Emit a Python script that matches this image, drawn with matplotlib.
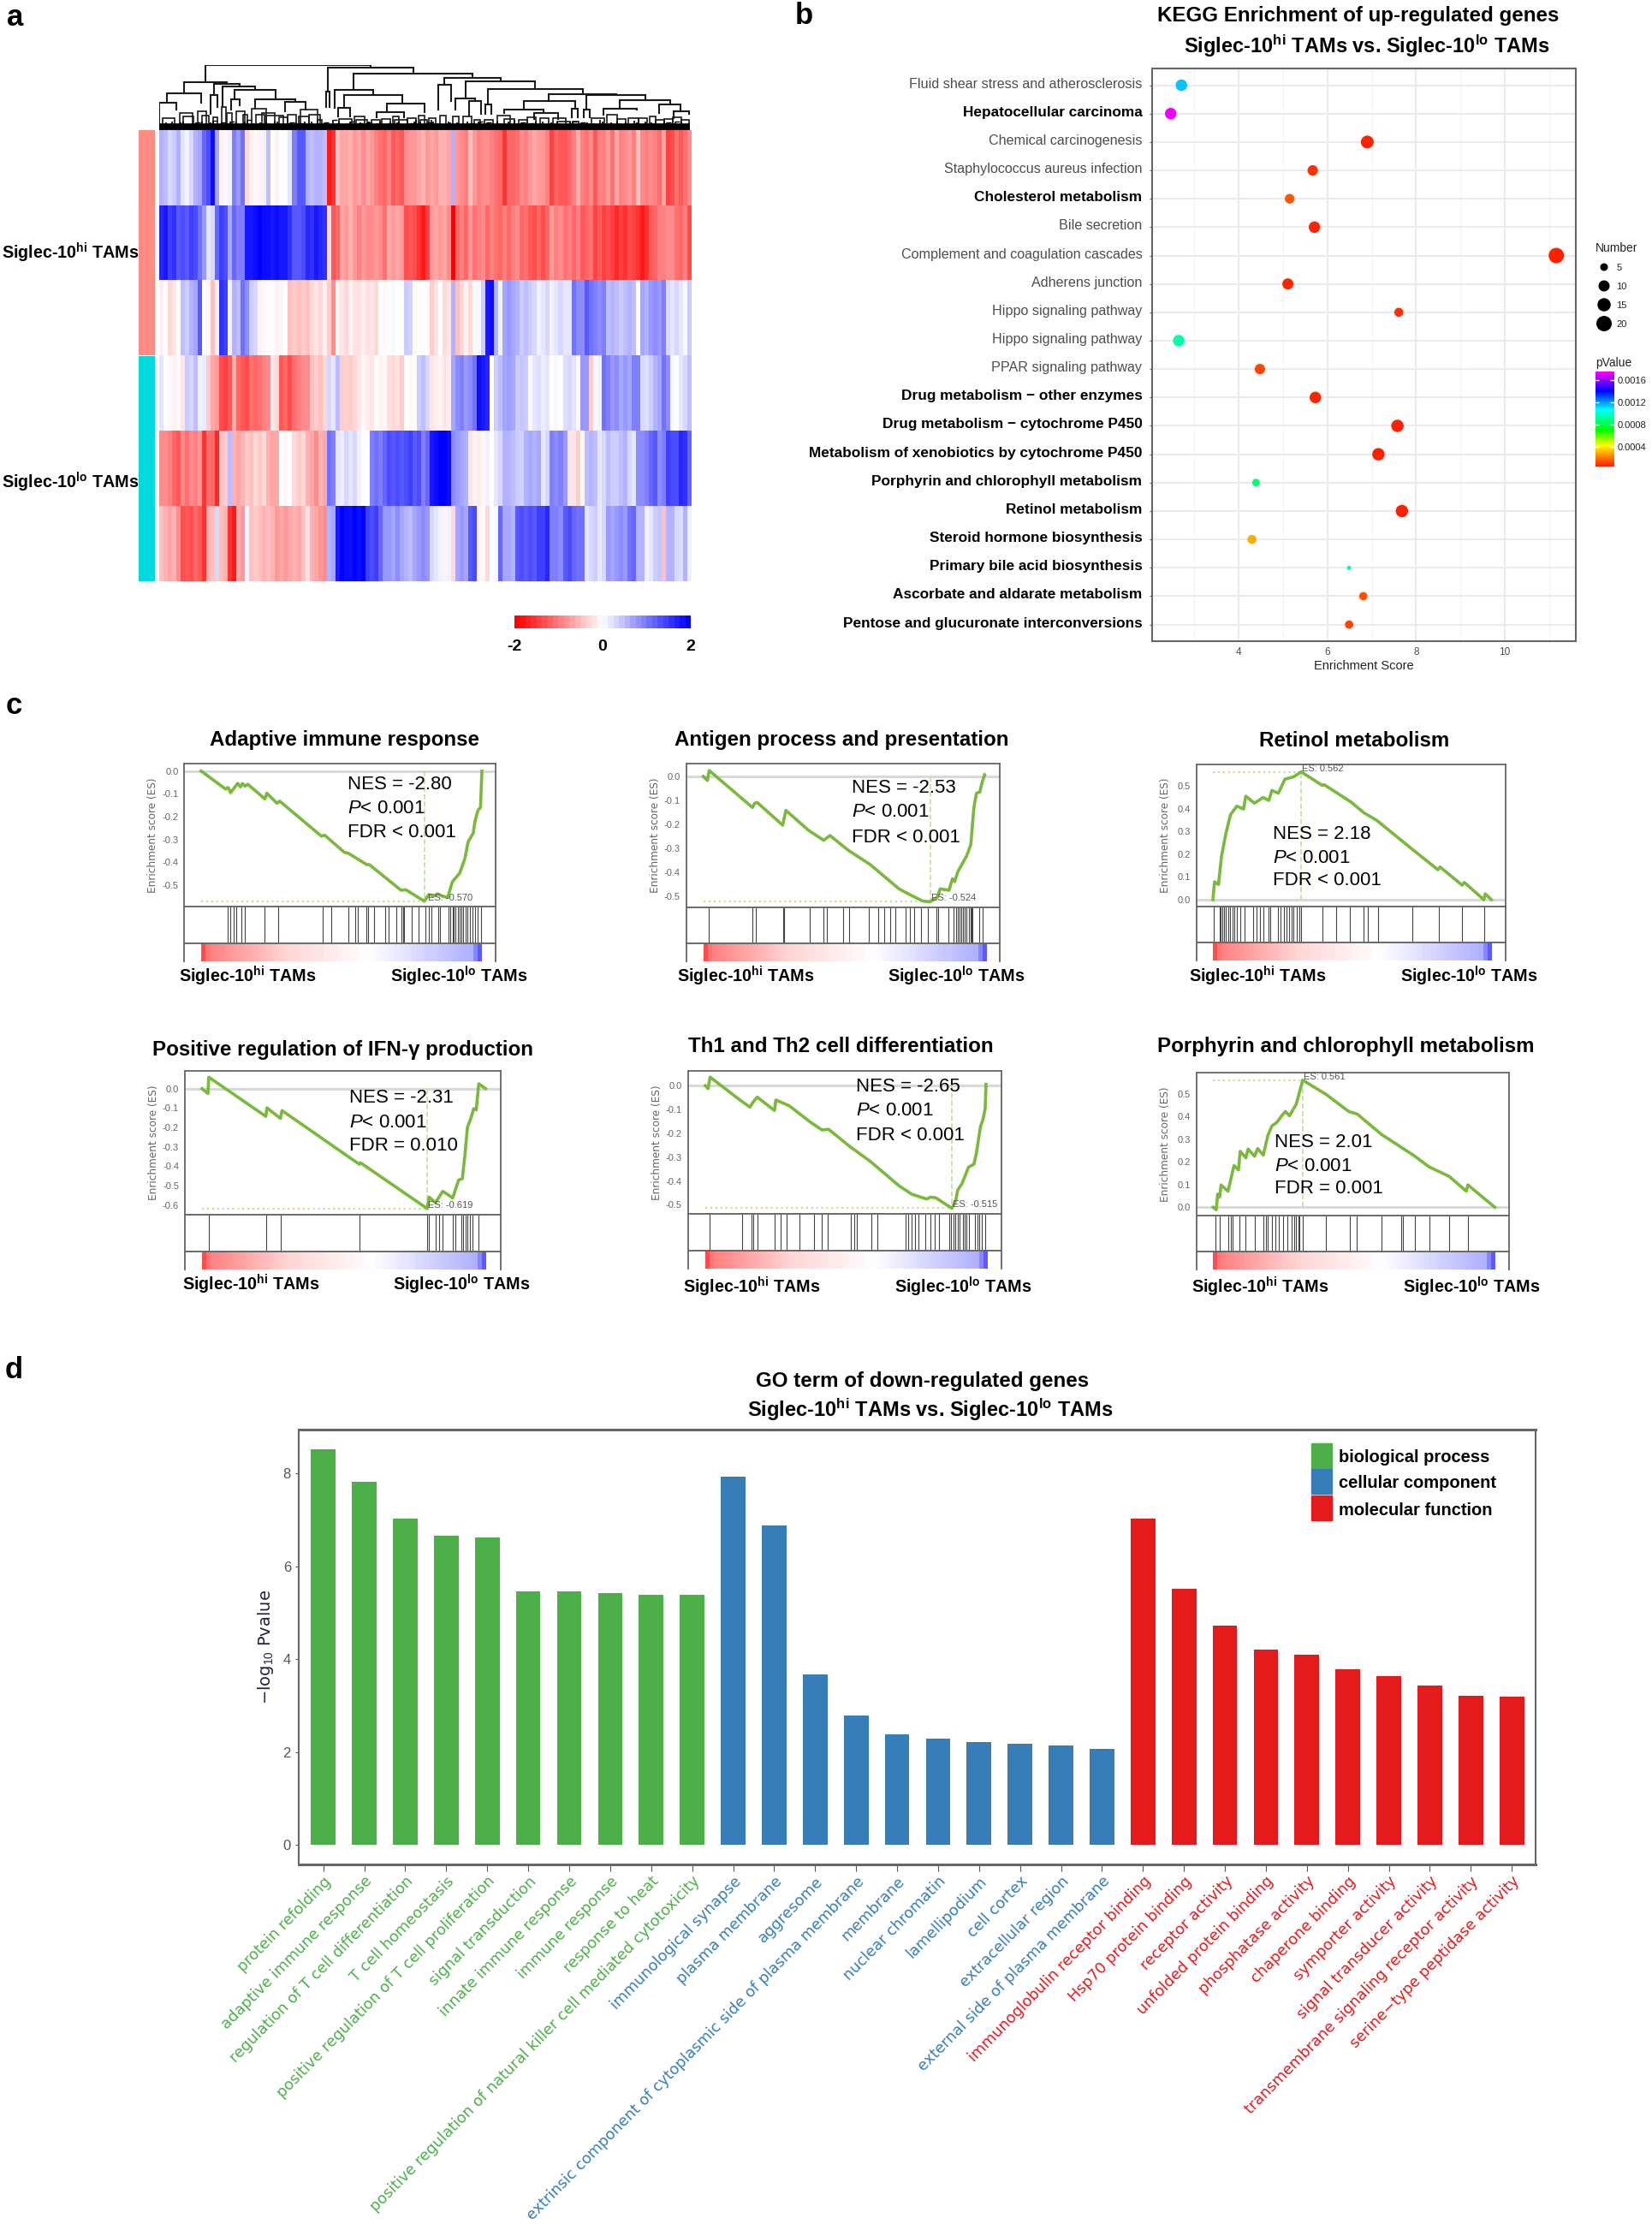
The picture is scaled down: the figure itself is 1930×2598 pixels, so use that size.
import matplotlib
matplotlib.use('Agg')
import matplotlib.pyplot as plt
from matplotlib.colors import LinearSegmentedColormap
from matplotlib.patches import Rectangle
from matplotlib.transforms import ScaledTranslation
import numpy as np

plt.rcParams['font.family'] = ['Liberation Sans', 'DejaVu Sans']
plt.rcParams['mathtext.fontset'] = 'custom'
plt.rcParams['mathtext.rm'] = 'Liberation Sans'
plt.rcParams['mathtext.it'] = 'Liberation Sans:italic'
plt.rcParams['mathtext.bf'] = 'Liberation Sans:bold'

W, H = 1930, 2598
HI = r'Siglec-10$^{\mathbf{hi}}$ TAMs'
LO = r'Siglec-10$^{\mathbf{lo}}$ TAMs'

# ---- panel a: heatmap values, one row per sample
heat_r1 = [.6,.5,.3,.4,.6,.2,.1,.3,.6,.7, 1.2,1.4,1.9,.7,-.1,-.05,.1,1.0,.8,1.1,
           -.3,-.1,-.05,-.1,.1,.5,0,-.1,0,0, .2,1.0,1.3,1.3,.6,.5,.6,.6,.5,-1.8,
           -1.6,-.5,-.7,-.7,-.6,-.8,-.7,-.9,-.7,-.8, -1.0,-1.1,-1.2,-1.0,-1.3,-1.2,-1.3,-.9,-.8,-.8,
           -.7,-.6,-.8,-.7,-.8,-.6,-.6,-.7,.6,-.8, -.9,-1.0,-.5,-.8,-1.0,-.9,-.9,-1.0,-1.1,-1.2,
           -1.6,-1.2,-1.2,-1.1,-.9,-1.0,-.8,-.7,-.8,-.8, -1.0,-1.5,-1.2,-1.3,-1.3,-1.2,-1.0,-.6,-1.0,-1.1,
           -.9,-1.3,-1.0,-1.0,-.8,-1.1,-.7,-1.0,-.9,-.8, -1.0,-.5,-.9,-1.0,-.9,-1.0,-1.1,-.7,-1.5,-1.4,
           -1.1,-1.3,-1.1,-.9]
heat_r2 = [1.7,1.8,1.5,1.6,1.3,1.4,1.3,1.5,1.4,1.1, .8,.2,.3,1.2,1.5,1.4,.7,1.2,1,1,
           1.8,1.8,1.9,2,1.9,1.9,1.8,1.9,1.8,1.8, 1.6,1.3,1.3,1.4,1.7,1.6,1.8,1.7,1.6,-.3,
           -1.3,-1.2,-.7,-.8,-.6,-.8,-1.0,-.8,-.9,-.9, -.8,-.9,-1.1,-.7,-.8,-.7,-.8,-1.4,-1.3,-1.4,
           -1.6,-1.8,-1.5,-.8,-.7,-.8,-.7,-.9,-2,-1.2, -1.0,-1.2,-.8,-1.1,-1.0,-.9,-1.2,-1.0,-1.1,-1.2,
           -1.0,-1.2,-1.0,-.9,-1.2,-1.1,-1.3,-1.4,-1.2,-1.4, -1.2,-.8,-1.0,-.9,-1.1,-1.0,-1.2,-1.0,-1.3,-1.2,
           -1.1,-1.5,-1.3,-1.5,-1.4,-1.5,-1.7,-1.5,-1.6,-1.4, -1.5,-1.6,-1.8,-1.6,-1.3,-1.2,-1.0,-1.0,-.9,-.9,
           -1.1,-1.2,-1.0,-1.4]
heat_r3 = [-.1,0,-.3,-.2,0,.5,.4,.6,.7,1.3, 0,-.05,-.5,-.1,1.6,1.5,.1,.6,.5,1.1,
           .9,.4,.3,-.1,-.05,0,0,-.1,.05,0, -.5,-.4,-.5,-.4,-.5,-.3,-.2,-.3,-.1,-.4,
           -.9,-.1,-.2,-.3,-.1,-.2,-.25,-.15,-.25,-.2, -.3,0,-.05,0,.05,0,0,.4,.35,-.05,
           0,0,0,-.4,-.2,0,-.3,-.2,.6,-.5, -.3,-.1,-.3,-.05,.05,.4,1.8,1.9,.6,.1,
           .7,.8,.7,.6,.4,.5,.4,.3,.1,.2, .3,.1,.2,.3,.2,.2,1.1,.9,.9,1.3,
           1.1,1.0,.9,1.0,.5,.6,.5,.4,.5,.6, .5,0,.7,.6,.8,.9,.8,1.0,.3,.2,
           .3,.2,.05,.4]
heat_r4 = [.2,0,-.05,-.1,-.05,-.2,.4,.3,.5,.1, .15,-.4,-.7,-.8,-1.4,-1.5,-1.3,-.6,-1.2,-1.3,
           -1.4,-1.1,-1.2,-1.1,-1.0,-.9,-.2,-.3,-1.3,-1.2, -1.4,-1.1,-1.0,-.9,-.9,-.5,-.4,-.5,-.3,.3,
           .2,.5,-.4,-.35,-.4,-.3,-.2,-.05,-.15,-.2, 0,-.1,-.05,-.25,-.3,-.25,-.4,0,-.05,0,
           .4,.5,.3,-.2,-.15,-.1,-.2,-.15,.7,.9, 1.0,.8,.9,1.1,1.9,1.8,1.7,0,.4,.5,
           .7,.75,.7,.4,.45,.4,-.05,.2,.25,.15, .2,0,.05,0,.25,.3,.2,-.05,.8,.8,
           -.4,.05,.1,1.1,1.0,.8,.9,.7,.8,.7, 1.0,1.0,.3,.25,.4,.6,.7,1.1,.9,.05,
           0,.2,.3,.5]
heat_r5 = [-.9,-.9,-1.0,-1.2,-1.3,-.9,-1.1,-.9,-1.0,-.8, -1.6,-1.1,-1.2,-1.7,-.5,-.4,.5,-.6,-.7,-.6,
           -.4,-.5,-.3,-.4,-.3,-.6,-.7,-.7,0,-.05, 0,-.3,-.4,-.3,-.6,-.7,-.9,-.6,-.7,1.1,
           1.0,.2,.15,.3,.2,.3,.1,0,0,1.0, 1.1,1.0,1.2,1.4,1.3,1.4,1.3,1.4,1.5,1.3,
           1.4,1.0,1.2,1.8,1.9,2,2,1.9,.9,.8, .7,.6,-.2,-.1,-.15,-.05,.1,0,.2,.3,
           .6,.6,.5,.4,.35,.6,.7,.6,.7,.2, .3,1.0,.9,1.0,.8,-.2,-.2,-.4,-.05,.5,
           .6,.5,.2,.3,.5,.4,.4,.5,.6,.3, .2,.9,.9,1.0,1.2,1.3,.9,1.0,1.5,1.4,
           1.4,1.7,1.6,1.2]
heat_r6 = [-.5,-.6,-.7,-.6,-.9,-1.4,-1.3,-1.4,-1.2,-1.3, -1.6,-.6,-.5,.3,-.5,-.6,-1.6,-1.8,-.7,-.8,
           .1,-.5,-.4,-.5,-.6,-.5,-.6,-.8,-.7,-.8, -.7,-.6,-.7,-.5,-.2,-.6,-.7,-.8,-.9,.6,
           .7,1.8,2,1.9,1.9,2,1.9,2,1.5,1.4, 1.5,1.2,.8,.8,.7,.9,.7,.6,.5,.7,
           .8,.9,.8,.3,.2,.1,-.1,.1,-.3,.7, .8,.7,1.3,1.4,-.1,-.05,-.3,0,.05,1.2,
           .7,.7,.6,1.3,1.4,1.3,1.4,1.3,1.5,1.5, 1.7,1.0,1.0,.9,1.3,1.4,1.2,1.1,1.1,.2,
           .3,.4,.2,.3,.8,.7,.8,.9,.8,1.1, 1.2,.6,.6,.1,.2,.4,.45,-.5,.6,.6,
           .3,.25,.6,.1]
group_colors = ['#ff8c82', '#ff8c82', '#ff8c82', '#00dadf', '#00dadf', '#00dadf']

# dendrogram merges: left col, right col, top height, left leg end, right leg end
den_l = [10.8,5.8,1.8,0,12.7,14.8,17.5,22.3,29.3,12,16.7,39.3,39,45.3,41,43.1,41.8,53.1,50.8,66.6,
         65.1,71.5,69.1,72.3,76.8,76.1,91,85.1,80.5,87.5,99.8,107.6,103.8,116.8,120.1,99.1,96.3]
den_r = [49.3,15.7,9.8,4,18.7,22.3,27.1,31.8,34.1,13.5,18.8,59.3,39.8,73.1,50,56.7,44.5,62,57.1,79.8,
         68.1,87.8,73.8,75.1,98.9,77.6,106.8,97.1,89.8,93.1,113.5,119.3,111.5,121.8,123.7,100.5,97.8]
den_t = [76,56,43,32,54,51,47,36,33,41,36,73,45,66,47,41,26,31,21,61,
         53,57,37,34,48,30,42,34,24,20,41,35,25,30,22,24,25]
den_a = [56,43,32,7,41,27,36,26,22,19,24,45,27,47,26,26,16,22,15,53,
         24,37,24,17,30,19,34,24,20,13,24,25,18,20,14,15,15]
den_b = [73,54,32,24,51,47,36,34,24,27,29,66,27,61,41,31,16,21,15,57,
         34,48,34,19,42,19,41,25,21,13,36,30,24,22,19,15,15]
# smaller merges near the leaves
mid_l = [.8,4.7,5.5,9,10,12.5,14.5,15.8,18,19.5,21.5,22.5,24,25,28,30,32.5,33,35,37,42,45.5,46,49.5,52,54.5,55,58,60.5,61,
         63,65.5,68.5,71,73.5,76,79,80.5,84,86,89,92,93,96.5,101,104.5,107,109.5,112,114.5,116,118,120,122]
mid_r = [3.6,7.7,8,11,11.5,13.5,15.5,17,20,20.5,25,24.5,27,29,30,32,35,37,37.5,38,45,48,48.5,51.5,54,56,58,60,62,62.5,
         64.5,67,70,73,75,78,82,83,86,88,91,95,96,98,104,107,109,112,114,116,118,120,122,123.8]
mid_t = [14,20,16,22,17,15,27,20,22,18,25,18,20,17,15,18,16,24,18,12,13,16,12,12,13,16,12,14,17,12,
         14,17,16,16,12,12,17,13,12,15,14,14,10,10,14,18,13,14,14,16,12,13,15,12]
leaf_h = [6,9,5,8,7,10,5,6,9,7,5,8,11,6,9,5,10,7,6,8,12,5,7,9,6,8,5,10,7,6,9,5,8,7,6,10,5,7,9,6,
          12,8,5,7,10,6,8,5,9,7,6,10,5,8,7,9,6,5,8,10,7,6,9,12,5,8,7,10,6,9,5,7,8,6,10,5,9,7,6,8,
          5,10,7,6,9,4,8,5,7,10,6,9,5,8,7,6,10,5,9,7,6,8,5,10,7,9,6,8,5,7,4,9,6,10,5,8,7,6,9,5,
          10,7,6,8]

# ---- panel b: KEGG terms
kegg_terms = ['Fluid shear stress and atherosclerosis', 'Hepatocellular carcinoma', 'Chemical carcinogenesis',
              'Staphylococcus aureus infection', 'Cholesterol metabolism', 'Bile secretion',
              'Complement and coagulation cascades', 'Adherens junction', 'Hippo signaling pathway',
              'Hippo signaling pathway', 'PPAR signaling pathway', 'Drug metabolism \u2212 other enzymes',
              'Drug metabolism \u2212 cytochrome P450', 'Metabolism of xenobiotics by cytochrome P450',
              'Porphyrin and chlorophyll metabolism', 'Retinol metabolism', 'Steroid hormone biosynthesis',
              'Primary bile acid biosynthesis', 'Ascorbate and aldarate metabolism',
              'Pentose and glucuronate interconversions']
kegg_bold = [0, 1, 0, 0, 1, 0, 0, 0, 0, 0, 0, 1, 1, 1, 1, 1, 1, 1, 1, 1]
kegg_score = [2.71, 2.47, 6.90, 5.67, 5.15, 5.71, 11.16, 5.11, 7.61, 2.65,
              4.48, 5.73, 7.58, 7.15, 4.39, 7.68, 4.30, 6.49, 6.81, 6.49]
kegg_number = [11, 11, 14, 9, 8, 11, 20, 10, 7, 11, 9, 11, 13, 13, 5, 13, 7, 2, 6, 6]
kegg_p = [.00115, .00172, .00005, .00008, .00015, .00006, .00002, .00006, .00008, .00095,
          .00012, .00006, .00005, .00005, .00085, .00005, .00029, .00095, .00014, .00012]
legend_numbers = [5, 10, 15, 20]
p_ticks = [.0004, .0008, .0012, .0016]
p_stops = [(0, '#ff2000'), (.1, '#ff8000'), (.22, '#ffff00'), (.38, '#00ff00'), (.6, '#00ffff'), (.8, '#0000ff'), (1, '#ff00ff')]

# ---- panel c: running enrichment scores (x = % of ranked list)
adapt_x = [0,8.7,9.6,10.5,13,14,14.7,15.7,16.6,22.7,23.4,27,28,42.8,44,51,52.4,59,59.9,71.2,72.9,79.5,81.1,
           82.8,84.2,86,87.8,89.5,92.1,93.9,95.1,96.9,97.6,98.6,99.5,100]
adapt_y = [0,-.079,-.072,-.095,-.054,-.07,-.055,-.066,-.058,-.122,-.097,-.141,-.132,-.285,-.281,-.356,-.36,-.41,-.41,
           -.522,-.52,-.57,-.541,-.548,-.538,-.548,-.554,-.485,-.447,-.385,-.31,-.272,-.216,-.172,-.16,0]
adapt_hits = [9.3,10.5,11.7,12.6,14.3,15.7,22.7,27.4,43.2,46.3,52.3,54.9,55.8,58.9,59.6,61.5,65.4,66.8,69.4,71.2,72,72.4,
              75,77.3,79.9,81.1,82,84.3,85.1,88.1,88.6,89.5,90,90.7,91.4,92.1,92.7,93.4,94.2,94.8,95.6,96.5,97.7,98.6,99.7]

antigen_x = [0,1.5,2.1,17.4,18.2,19.1,28.1,29.2,37.3,42.6,44.8,51.3,59.1,69.2,73,77.6,80.2,82.7,83.8,86.9,88.1,88.9,90,93.1,94.6,95.7,96.6,97.8,98.5,99.5]
antigen_y = [0,-.017,.025,-.13,-.112,-.109,-.204,-.142,-.226,-.267,-.247,-.309,-.369,-.47,-.494,-.521,-.524,-.506,-.47,-.476,-.428,-.44,-.399,-.333,-.285,-.13,-.07,-.065,-.029,.007]
antigen_hits = [1.8,17.4,18.6,28.2,28.6,37.6,42.5,43.7,49.5,51.6,58.4,62,64,66,68,71.5,73,74.6,77,79.5,82.3,83.1,86.6,
                88.4,89.3,89.9,90.5,91.1,91.7,92.3,92.9,93.8,94.7,95,95.3,97.7,98.8]

retinol_x = [0,.6,2,3.1,4.7,6.3,8.6,11,11.8,14.9,18,20.1,21.2,23.5,25.9,29,31.7,39.2,40,44.7,49.5,54.2,58.9,71.4,80.8,81.6,89.5,90.3,97.3,97.8,100]
retinol_y = [0,.079,.067,.192,.293,.374,.412,.399,.456,.425,.45,.437,.481,.469,.531,.541,.563,.504,.506,.469,.431,.383,.349,.224,.132,.144,.064,.076,0,.026,0]
retinol_hits = [.3,2.4,2.8,3.5,4.1,4.7,5.5,6.3,7.1,7.8,8.6,9.7,11.3,14.4,15.7,16.8,18,20.1,20.7,23.5,24.3,25.4,26.4,27.5,
                28.3,29,30.1,31,31.7,39.2,44.4,49.1,54.2,55.7,59.2,71.5,81.2,89.5,97.6]

ifn_x = [0,2.1,2.4,22.5,22.9,27.7,28.2,55.5,55.9,79.4,80.1,82.3,84.9,88.4,90.5,91.8,92.7,93.6,94.8,95.8,96.7,97.6,100]
ifn_y = [0,-.025,.059,-.143,-.099,-.154,-.113,-.39,-.382,-.618,-.559,-.588,-.529,-.563,-.471,-.464,-.346,-.199,-.154,-.103,-.11,.025,0]
ifn_hits = [2.4,22.5,27.9,55.6,79.5,80.1,82.3,83.5,84.9,88.4,89.3,91.5,92.2,92.9,93.6,94.5,95.3,97.6]

th_x = [0,1,1.7,12.3,15.8,17,18.4,24.5,25,29.7,37.6,41.4,43.7,51.5,58.5,68.6,73.2,77.9,78.6,79.7,81.7,87.4,88.7,89.5,91,93.3,95.2,96.1,97.5,98.5,99.2,99.5]
th_y = [0,-.012,.036,-.06,-.09,-.068,-.048,-.104,-.06,-.084,-.156,-.186,-.183,-.258,-.318,-.42,-.456,-.474,-.476,-.468,-.471,-.515,-.486,-.438,-.411,-.342,-.33,-.282,-.174,-.138,-.096,.006]
th_hits = [1.4,12.9,16.4,17,18.4,24.7,26.7,28.8,33.4,38.5,41.4,43.4,51.6,52.9,53.7,59,61,70.9,72,73.2,74.3,75.5,77.9,79.7,81.3,
           82.8,86.4,87.2,87.9,88.7,89.5,90.2,91.3,91.8,92.6,93.3,95.6,96.4,97.2,98,99.1]

porph_x = [0,1.1,1.6,2.3,2.8,5.3,7.4,9,9.6,11.6,12.4,14.7,15.8,17.8,19.4,20.9,22.5,24,25.6,27.1,29.5,31.8,40,48.1,51.2,59.7,71.3,76.7,83.7,89.9,90.4,100]
porph_y = [0,-.011,.058,.045,.098,.071,.184,.165,.247,.218,.257,.225,.259,.23,.316,.36,.373,.398,.423,.404,.455,.561,.499,.423,.411,.322,.228,.178,.137,.071,.099,0]
porph_hits = [.8,2.3,5.4,6.2,7,9.3,11.6,14.7,17.8,18.6,19.4,20.9,22,23.3,24.8,26.4,27.9,28.7,29.5,30.4,30.7,31.8,40,48.4,50.9,
              59.7,66.7,67.4,71.6,76.9,83.7,90.4]

neg_ticks = [0, -.1, -.2, -.3, -.4, -.5]
pos_ticks = [0, .1, .2, .3, .4, .5]

# ---- panel d: GO terms
go_terms = ['protein refolding', 'adaptive immune response', 'regulation of T cell differentiation', 'T cell homeostasis',
            'positive regulation of T cell proliferation', 'signal transduction', 'innate immune response', 'immune response',
            'response to heat', 'positive regulation of natural killer cell mediated cytotoxicity',
            'immunological synapse', 'plasma membrane', 'aggresome', 'extrinsic component of cytoplasmic side of plasma membrane',
            'membrane', 'nuclear chromatin', 'lamellipodium', 'cell cortex', 'extracellular region', 'external side of plasma membrane',
            'immunoglobulin receptor binding', 'Hsp70 protein binding', 'receptor activity', 'unfolded protein binding',
            'phosphatase activity', 'chaperone binding', 'symporter activity', 'signal transducer activity',
            'transmembrane signaling receptor activity', 'serine\u2212type peptidase activity']
go_values = [8.53, 7.83, 7.03, 6.67, 6.62, 5.46, 5.46, 5.43, 5.38, 5.38,
             7.93, 6.89, 3.67, 2.79, 2.38, 2.28, 2.21, 2.17, 2.14, 2.07,
             7.03, 5.51, 4.72, 4.20, 4.09, 3.78, 3.63, 3.44, 3.22, 3.20]
go_groups = ['biological process', 'cellular component', 'molecular function']
go_colors = ['#4daf4a', '#377eb8', '#e41a1c']
go_group_size = [10, 10, 10]

fig = plt.figure(figsize=(W / 100, H / 100), dpi=100)


def px_axes(x0, y0, x1, y1):
    # axes from pixel box, y measured from the top of the figure
    return fig.add_axes([x0 / W, 1 - y1 / H, (x1 - x0) / W, (y1 - y0) / H])


def ftext(x, y, s, **kw):
    kw.setdefault('ha', 'center')
    kw.setdefault('va', 'center')
    return fig.text(x / W, 1 - y / H, s, **kw)


for letter, lx, ly in [('a', 18, 20), ('b', 939, 19), ('c', 16, 824), ('d', 16, 1600)]:
    ftext(lx, ly, letter, fontsize=25, fontweight='bold')

# ---- a
heat = np.array([heat_r1, heat_r2, heat_r3, heat_r4, heat_r5, heat_r6])
assert heat.shape == (6, 124)
rwb = LinearSegmentedColormap.from_list('rwb', ['#ff0000', '#ffffff', '#0000ff'])
ax = px_axes(186, 152, 808, 679)
ax.imshow(heat, cmap=rwb, vmin=-2, vmax=2, aspect='auto', interpolation='nearest')
ax.set_axis_off()

ax = px_axes(162, 152, 181, 679)
ax.barh(range(6), [1] * 6, height=1, color=group_colors)
ax.set_xlim(0, 1)
ax.set_ylim(5.5, -0.5)
ax.set_axis_off()

ax = px_axes(186, 76, 808, 152)
for l, r, t, a, b in zip(den_l, den_r, den_t, den_a, den_b):
    ax.plot([l, l, r, r], [a, t, t, b], color='#1a1a1a', lw=1.5, solid_joinstyle='miter')
for l, r, t in zip(mid_l, mid_r, mid_t):
    ax.plot([l, l, r, r], [3, t, t, 3], color='#1a1a1a', lw=1.2, solid_joinstyle='miter')
cols = np.arange(len(leaf_h))
ax.vlines(cols + .5, 0, leaf_h, color='black', lw=1.2)
ax.vlines(cols, 0, leaf_h[::-1], color='black', lw=1.2)
ax.hlines(leaf_h[::2], cols[::2] + .5, cols[::2] + 1.5, color='black', lw=1)
ax.hlines(4, 0, 124, color='black', lw=5.5)
ax.set_xlim(0, 124.4)
ax.set_ylim(0, 76)
ax.set_axis_off()

ftext(82, 295, HI, fontsize=14.2, fontweight='bold')
ftext(82, 563, LO, fontsize=14.2, fontweight='bold')

ax = px_axes(601, 719, 807, 734)
ax.imshow(np.linspace(-2, 2, 32)[None, :], cmap=rwb, vmin=-2, vmax=2, aspect='auto', extent=[-2, 2, 0, 1])
ax.set_yticks([])
ax.set_xticks([-2, 0, 2], ['-2', '0', '2'], fontsize=14, fontweight='bold')
ax.tick_params(axis='x', length=0, pad=9)
for s in ax.spines.values():
    s.set_visible(False)

# ---- b
ftext(1587, 19, 'KEGG Enrichment of up-regulated genes', fontsize=17.4, fontweight='bold')
ftext(1597, 54, HI + ' vs. ' + LO, fontsize=17, fontweight='bold')

rainbow = LinearSegmentedColormap.from_list('pv', p_stops)
p_lo, p_hi = .00005, .00175


def dot_size(n):
    d = np.interp(n, [2, 5, 10, 15, 20], [5, 9, 13, 15.5, 18])
    return (d * 0.72) ** 2


ax = px_axes(1345.5, 80, 1841, 749)
ypos = np.arange(len(kegg_terms))
ax.set_axisbelow(True)
ax.set_xticks([4, 6, 8, 10])
ax.set_xticks([3, 5, 7, 9, 11], minor=True)
ax.grid(True, which='major', color='#ebebeb', lw=1.5)
ax.grid(True, which='minor', axis='x', color='#f3f3f3', lw=.8)
ax.scatter(kegg_score, ypos, s=[dot_size(n) for n in kegg_number], c=kegg_p, cmap=rainbow, vmin=p_lo, vmax=p_hi, linewidths=0, zorder=3)
ax.set_xlim(2.04, 11.6)
ax.set_ylim(19.585, -.59)
ax.set_yticks(ypos, kegg_terms)
ax.tick_params(axis='y', length=2, color='#555555', pad=6)
ax.tick_params(axis='x', which='major', length=0, labelsize=8.5, labelcolor='#4d4d4d', pad=5)
ax.tick_params(axis='x', which='minor', length=0)
# tick_params resets label transforms, so nudge the labels after it
up = ScaledTranslation(0, 3 / 100, fig.dpi_scale_trans)
for lab, b in zip(ax.get_yticklabels(), kegg_bold):
    lab.set_transform(lab.get_transform() + up)
    if b:
        lab.set_fontweight('bold')
        lab.set_color('black')
        lab.set_fontsize(12.4)
    else:
        lab.set_color('#4d4d4d')
        lab.set_fontsize(11.6)
ax.set_xlabel('Enrichment Score', fontsize=10.5, color='#222222', labelpad=2)
for s in ax.spines.values():
    s.set_color('#666666')
    s.set_linewidth(1.5)

ftext(1864, 290, 'Number', fontsize=10, ha='left', color='#222222')
ax = px_axes(1864, 301, 1884, 389)
ax.scatter([0] * 4, range(4), s=[dot_size(n) for n in legend_numbers], color='black', linewidths=0)
ax.set_xlim(-1, 1)
ax.set_ylim(3.5, -.5)
ax.set_xticks([])
ax.yaxis.tick_right()
ax.set_yticks(range(4), legend_numbers, fontsize=8, color='#222222')
ax.tick_params(axis='y', length=0, pad=3)
for s in ax.spines.values():
    s.set_visible(False)

ftext(1864, 424, 'pValue', fontsize=10, ha='left', color='#222222')
ax = px_axes(1864, 434, 1885.5, 545)
ax.imshow(np.linspace(0, 1, 128)[:, None], cmap=rainbow, origin='lower', aspect='auto', extent=[0, 1, p_lo, p_hi])
ax.hlines(p_ticks, 0, .2, color='white', lw=1)
ax.hlines(p_ticks, .8, 1, color='white', lw=1)
ax.set_xticks([])
ax.yaxis.tick_right()
ax.set_yticks(p_ticks, ['0.0004', '0.0008', '0.0012', '0.0016'], fontsize=8, color='#222222')
ax.tick_params(axis='y', length=0, pad=3)
for s in ax.spines.values():
    s.set_visible(False)

# ---- c
fade = LinearSegmentedColormap.from_list('fade', [(0, '#ff4d4d'), (.02, '#ff8080'), (.3, '#ffd5d5'), (.6, '#ffffff'), (.97, '#b0b0ff'), (1, '#5a5aff')])
gsea_green = '#7ab93c'
gsea_panels = [
    dict(title='Adaptive immune response', tx=402.6, ty=865, x=adapt_x, y=adapt_y, hits=adapt_hits, yt=neg_ticks,
         box=(215.4, 892, 579, 1059, 1102, 1123), bar=(235, 563), y0=900.7, unit=266.7, es='ES: -0.570',
         esxy=(499, 1049), nes=['NES = -2.80', r'$\mathit{P}$< 0.001', 'FDR < 0.001'], nx=405.5, ny=(917, 944, 972), lx=(209, 456), ly=1140),
    dict(title='Antigen process and presentation', tx=983, ty=865, x=antigen_x, y=antigen_y, hits=antigen_hits, yt=neg_ticks,
         box=(801.5, 892, 1168, 1060, 1102, 1123), bar=(821.6, 1152), y0=907, unit=279.4, es='ES: -0.524',
         esxy=(1087, 1049), nes=['NES = -2.53', r'$\mathit{P}$< 0.001', 'FDR < 0.001'], nx=995, ny=(920, 949, 978), lx=(791, 1037), ly=1140),
    dict(title='Retinol metabolism', tx=1582, ty=866, x=retinol_x, y=retinol_y, hits=retinol_hits, yt=pos_ticks,
         box=(1397.5, 893, 1759, 1059, 1101, 1122), bar=(1417, 1742.3), y0=1051, unit=265.3, es='ES: 0.562',
         esxy=(1520, 898), nes=['NES = 2.18', r'$\mathit{P}$< 0.001', 'FDR < 0.001'], nx=1486.7, ny=(975, 1002, 1029), lx=(1389, 1636), ly=1140),
    dict(title='Positive regulation of IFN-\u03b3 production', tx=400.6, ty=1226, x=ifn_x, y=ifn_y, hits=ifn_hits, yt=[0, -.1, -.2, -.3, -.4, -.5, -.6],
         box=(216, 1250.7, 584.6, 1419, 1461.7, 1482.7), bar=(236, 567.3), y0=1271.7, unit=226.7, es='ES: -0.619',
         esxy=(499, 1408), nes=['NES = -2.31', r'$\mathit{P}$< 0.001', 'FDR = 0.010'], nx=407.7, ny=(1283, 1311, 1339), lx=(212.6, 459), ly=1500),
    dict(title='Th1 and Th2 cell differentiation', tx=982, ty=1222, x=th_x, y=th_y, hits=th_hits, yt=neg_ticks,
         box=(803.8, 1250.7, 1170, 1418, 1460.7, 1481.7), bar=(824, 1153.6), y0=1268.3, unit=278, es='ES: -0.515',
         esxy=(1112, 1407), nes=['NES = -2.65', r'$\mathit{P}$< 0.001', 'FDR < 0.001'], nx=1000, ny=(1269, 1297, 1327), lx=(798, 1045), ly=1503),
    dict(title='Porphyrin and chlorophyll metabolism', tx=1572, ty=1222, x=porph_x, y=porph_y, hits=porph_hits, yt=pos_ticks,
         box=(1397.5, 1253, 1762.8, 1420, 1462, 1483), bar=(1417.3, 1746.4), y0=1410.3, unit=264.7, es='ES: 0.561',
         esxy=(1522, 1258), nes=['NES = 2.01', r'$\mathit{P}$< 0.001', 'FDR = 0.001'], nx=1489, ny=(1335, 1362, 1389), lx=(1392, 1639), ly=1503),
]

for p in gsea_panels:
    x0, top, x1, main, hit, bot = p['box']
    b0, b1 = p['bar']
    per = 100 / (b1 - b0)
    xlim = ((x0 - b0) * per, (x1 - b0) * per)

    ftext(p['tx'], p['ty'], p['title'], fontsize=17.4, fontweight='bold')

    ax = px_axes(x0, top, x1, main)
    ax.axhline(0, color='#d9d9d9', lw=2.2, zorder=1)
    i_es = int(np.argmax(np.abs(p['y'])))
    ex, ey = p['x'][i_es], p['y'][i_es]
    ax.plot([ex, ex], [0, ey], color='#bfe39b', lw=1.2, ls='--', zorder=1)
    ax.plot([0, ex], [ey, ey], color='#bfe39b', lw=1.6, ls=':', zorder=1)
    ax.plot(p['x'], p['y'], color=gsea_green, lw=2.6, zorder=2)
    ax.set_xlim(xlim)
    ax.set_ylim((p['y0'] - main) / p['unit'], (p['y0'] - top) / p['unit'])
    ax.set_xticks([])
    ax.set_yticks(p['yt'], ['%.1f' % v for v in p['yt']], fontsize=8, color='#666666')
    ax.tick_params(axis='y', length=0, pad=5)
    ax.set_ylabel('Enrichment score (ES)', family='DejaVu Sans', fontsize=8.7, color='#666666')
    ax.yaxis.set_label_coords(-30 / (x1 - x0), .5)

    ax2 = px_axes(x0, main, x1, hit)
    ax2.vlines(p['hits'], 0, 1, color='#444444', lw=.8)
    ax2.set_xlim(xlim)
    ax2.set_ylim(0, 1)
    ax2.set_xticks([])
    ax2.set_yticks([])

    ax3 = px_axes(x0, hit, x1, bot)
    ax3.imshow(np.linspace(0, 1, 64)[None, :], cmap=fade, aspect='auto', extent=[0, 100, 0, 1])
    ax3.set_xlim(xlim)
    ax3.set_ylim(0, 1)
    ax3.set_xticks([])
    ax3.set_yticks([])
    ax3.spines['bottom'].set_visible(False)

    for a in (ax, ax2, ax3):
        for s in a.spines.values():
            s.set_color('#666666')
            s.set_linewidth(1.3)

    ftext(p['esxy'][0] + 1, p['esxy'][1], p['es'], fontsize=8, ha='left', color='#555555')
    for line, yy in zip(p['nes'], p['ny']):
        ftext(p['nx'], yy, line, fontsize=16, ha='left')
    for lab, lx in zip((HI, LO), p['lx']):
        ftext(lx, p['ly'], lab, fontsize=14.2, fontweight='bold', ha='left')

# ---- d
ftext(1077.6, 1613.6, 'GO term of down-regulated genes', fontsize=17.4, fontweight='bold')
ftext(1087, 1647, HI + ' vs. ' + LO, fontsize=17, fontweight='bold')

bar_colors = np.repeat(go_colors, go_group_size)
ax = px_axes(349, 1670, 1794, 2177.5)
xs = np.arange(len(go_values))
ax.bar(xs, go_values, width=.6, color=bar_colors)
ax.set_xlim(-.6, 29.58)
ax.set_ylim(-.415, 8.95)
ax.set_yticks([0, 2, 4, 6, 8])
ax.tick_params(axis='y', length=3, labelsize=12, labelcolor='#555555', color='#555555')
ax.set_ylabel('\u2212log$_{10}$ Pvalue', family='DejaVu Sans', fontsize=14, color='#222244', labelpad=6)
ax.set_xticks(xs)
ax.tick_params(axis='x', length=6, color='#555555', pad=2)
ax.set_xticklabels(go_terms, rotation=45.5, ha='right', va='top', rotation_mode='anchor', fontsize=12.8, family='DejaVu Sans')
for lab, c in zip(ax.get_xticklabels(), bar_colors):
    lab.set_color(c)
for s in ax.spines.values():
    s.set_color('#666666')
    s.set_linewidth(1.5)
ax.spines['top'].set_linewidth(2.2)
ax.spines['bottom'].set_linewidth(2.2)

for name, c, yt, yb, ty in zip(go_groups, go_colors, (1686, 1716, 1747), (1715, 1745, 1776), (1703, 1733, 1764)):
    fig.patches.append(Rectangle((1531.6 / W, 1 - yb / H), 24.4 / W, (yb - yt) / H, transform=fig.transFigure, color=c, figure=fig))
    ftext(1564, ty, name, fontsize=14.5, fontweight='bold', ha='left')

fig.savefig('out.png', dpi=100)
